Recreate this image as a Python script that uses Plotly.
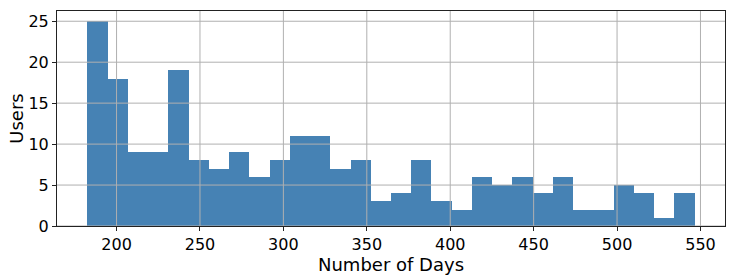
import plotly.graph_objects as go

# Histogram counts (30 bins)
counts = [25, 18, 9, 9, 19, 8, 7, 9, 6, 8, 11, 11, 7, 8, 3, 4, 8, 3, 2, 6,
          5, 6, 4, 6, 2, 2, 5, 4, 1, 4]
data_min = 182.5
data_max = 546.5
x_ticks = [200, 250, 300, 350, 400, 450, 500, 550]
y_ticks = [0, 5, 10, 15, 20, 25]

n_bins = len(counts)
bin_w = (data_max - data_min) / n_bins
centers = [data_min + bin_w * (i + 0.5) for i in range(n_bins)]

span = data_max - data_min
x_range = [data_min - 0.05 * span, data_max + 0.05 * span]
y_range = [0, max(counts) * 1.05]

fig = go.Figure()
fig.add_trace(go.Bar(x=centers, y=counts, width=[bin_w] * n_bins,
                     marker=dict(color="#4682B4", line=dict(width=0)),
                     showlegend=False))

grid_color = "#b0b0b0"
shapes = []
for t in x_ticks:
    shapes.append(dict(type="line", xref="x", yref="paper", x0=t, x1=t, y0=0, y1=1,
                       line=dict(color=grid_color, width=1), layer="above"))
for t in y_ticks:
    shapes.append(dict(type="line", xref="paper", yref="y", x0=0, x1=1, y0=t, y1=t,
                       line=dict(color=grid_color, width=1), layer="above"))

fig.update_layout(
    width=736, height=279,
    margin=dict(l=57, r=10, t=10, b=51),
    paper_bgcolor="white", plot_bgcolor="white",
    font=dict(family="DejaVu Sans", size=16, color="black"),
    bargap=0,
    shapes=shapes,
)
fig.update_xaxes(range=x_range, tickvals=x_ticks, showgrid=False, zeroline=False,
                 showline=True, linecolor="#222", linewidth=1, mirror=True,
                 ticks="outside", ticklen=4, tickcolor="#222",
                 title=dict(text="Number of Days", font=dict(size=18), standoff=2))
fig.update_yaxes(range=y_range, tickvals=y_ticks, showgrid=False, zeroline=False,
                 showline=True, linecolor="#222", linewidth=1, mirror=True,
                 ticks="outside", ticklen=4, tickcolor="#222",
                 title=dict(text="Users", font=dict(size=18), standoff=0))

fig.write_html("out.html")
